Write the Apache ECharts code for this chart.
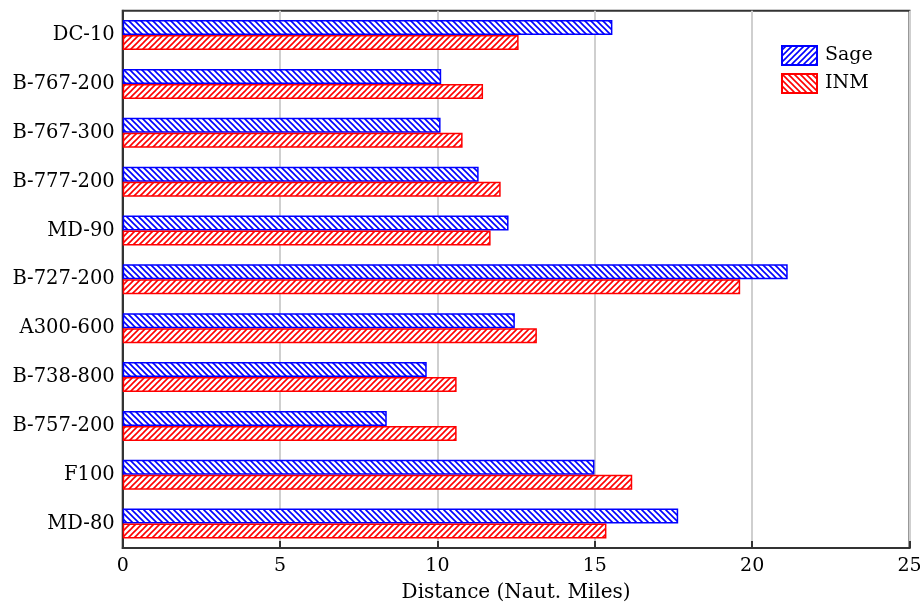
<!DOCTYPE html>
<html>
<head>
<meta charset="utf-8">
<script src="https://cdn.jsdelivr.net/npm/echarts@6/dist/echarts.min.js"></script>
<style>html,body{margin:0;padding:0;background:#fff;}#c{width:920px;height:609px;}</style>
</head>
<body>
<div id="c"></div>
<script>
const categories = ['DC-10','B-767-200','B-767-300','B-777-200','MD-90','B-727-200','A300-600','B-738-800','B-757-200','F100','MD-80'];
const sageValues = [15.56,10.12,10.1,11.31,12.26,21.13,12.46,9.66,8.39,14.99,17.65];
const inmValues  = [12.58,11.45,10.8,12.01,11.69,19.62,13.16,10.61,10.61,16.19,15.37];
const xTicks = [0,5,10,15,20,25];

function hatch(color, dir) {
  const s = 6;
  const c = document.createElement('canvas');
  c.width = s; c.height = s;
  const g = c.getContext('2d');
  g.fillStyle = '#fff'; g.fillRect(0,0,s,s);
  g.strokeStyle = color; g.lineWidth = 1.6;
  g.beginPath();
  if (dir === 'back') {
    g.moveTo(-1,-1); g.lineTo(s+1,s+1);
    g.moveTo(-1,s-1); g.lineTo(1,s+1);
    g.moveTo(s-1,-1); g.lineTo(s+1,1);
  } else {
    g.moveTo(-1,s+1); g.lineTo(s+1,-1);
    g.moveTo(-1,1); g.lineTo(1,-1);
    g.moveTo(s-1,s+1); g.lineTo(s+1,s-1);
  }
  g.stroke();
  return c;
}
function legendIcon(color, dir) {
  const w = 37, h = 21;
  const c = document.createElement('canvas');
  c.width = w; c.height = h;
  const g = c.getContext('2d');
  const p = g.createPattern(hatch(color, dir), 'repeat');
  g.fillStyle = p; g.fillRect(0,0,w,h);
  g.strokeStyle = color; g.lineWidth = 2;
  g.strokeRect(1,1,w-2,h-2);
  return 'image://' + c.toDataURL();
}

const chart = echarts.init(document.getElementById('c'), null, {renderer:'canvas'});
const font = 'DejaVu Serif';
chart.setOption({
  animation: false,
  backgroundColor: '#fff',
  grid: {left: 122.7, right: 10.5, top: 10.7, bottom: 61, outerBoundsMode: 'none', containLabel: false,
         show: true, borderColor: '#333', borderWidth: 2, backgroundColor: 'transparent'},
  legend: {
    orient: 'vertical', left: 776, top: 40, itemWidth: 37, itemHeight: 21, itemGap: 7,
    textStyle: {fontFamily: font, fontSize: 19, color: '#000', padding: [0,0,0,2]},
    data: [
      {name: 'Sage', icon: legendIcon('#0000ff','fwd')},
      {name: 'INM', icon: legendIcon('#ff0000','back')}
    ]
  },
  xAxis: {
    type: 'value', min: 0, max: 25, interval: 5,
    name: 'Distance (Naut. Miles)', nameLocation: 'middle', nameGap: 35,
    nameTextStyle: {fontFamily: font, fontSize: 20, color: '#000'},
    axisLine: {show: true, lineStyle: {color: '#333', width: 2}},
    axisTick: {show: true, inside: true, length: 7, lineStyle: {color: '#333', width: 2}},
    axisLabel: {fontFamily: font, fontSize: 19, color: '#000', margin: 9,
      formatter: v => xTicks.includes(v) ? String(v) : ''},
    splitLine: {show: true, lineStyle: {color: '#cfcfcf', width: 2}}
  },
  yAxis: {
    type: 'category', data: categories, inverse: true,
    axisLine: {show: true, lineStyle: {color: '#333', width: 2}},
    axisTick: {show: false},
    axisLabel: {fontFamily: font, fontSize: 19.5, color: '#000', margin: 8},
    splitLine: {show: false}
  },
  series: [
    {name: 'Sage', type: 'bar', data: sageValues, barWidth: 15, barGap: '0%',
     itemStyle: {color: {image: hatch('#0000ff','back'), repeat: 'repeat'}, borderColor: '#0000ff', borderWidth: 1.5}},
    {name: 'INM', type: 'bar', data: inmValues, barWidth: 15, barGap: '0%',
     itemStyle: {color: {image: hatch('#ff0000','fwd'), repeat: 'repeat'}, borderColor: '#ff0000', borderWidth: 1.5}}
  ]
});
</script>
</body>
</html>
